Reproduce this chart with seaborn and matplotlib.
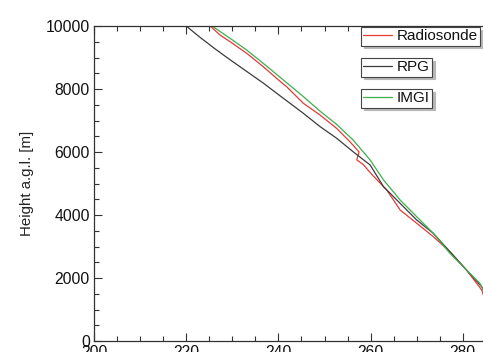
import matplotlib
matplotlib.use("Agg")
import matplotlib.pyplot as plt
from matplotlib.lines import Line2D
from matplotlib.ticker import MultipleLocator
import seaborn as sns
import pandas as pd

sns.set_theme(style="white")
plt.rcParams['font.family'] = ['Liberation Sans', 'DejaVu Sans']

# Temperature [K] vs height a.g.l. [m]
radiosonde_T = [225.2, 227.3, 229.5, 233.1, 236.7, 240.3, 241.8, 245.4, 249.0, 252.6, 255.5,
                257.5, 257.0, 258.4, 260.5, 263.5, 266.4, 270.0, 273.6, 277.2,
                280.8, 284.1, 285.5, 285.0, 284.4]
radiosonde_h = [10000, 9716, 9503, 9135, 8709, 8250, 8070, 7547, 7176, 6753, 6328,
                6000, 5750, 5600, 5250, 4794, 4159, 3737, 3312, 2836,
                2254, 1619, 1000, 200, 0]

rpg_T = [220.0, 223.0, 226.3, 229.5, 233.1, 236.7, 240.3, 245.4, 249.0, 252.6,
         256.2, 259.9, 262.8, 266.4, 270.0, 273.6, 277.2, 280.8, 284.1, 286.5, 288.0]
rpg_h = [10000, 9640, 9270, 8930, 8560, 8190, 7790, 7230, 6810, 6440,
         6010, 5588, 4899, 4372, 3842, 3420, 2836, 2254, 1724, 1000, 0]

imgi_T = [225.6, 229.5, 233.1, 236.7, 240.3, 245.4, 249.0, 252.6, 256.2, 259.9, 262.8,
          266.4, 270.0, 273.6, 277.2, 280.8, 283.7, 286.5, 288.0]
imgi_h = [10000, 9611, 9239, 8817, 8380, 7760, 7300, 6880, 6382, 5747, 5112,
          4477, 3947, 3420, 2784, 2254, 1832, 1000, 0]

series = [("Radiosonde", radiosonde_T, radiosonde_h, "#e63a36"),
          ("RPG", rpg_T, rpg_h, "#3c3c3c"),
          ("IMGI", imgi_T, imgi_h, "#3fae4e")]

W, H = 483, 352
fig = plt.figure(figsize=(W / 100, H / 100), dpi=100)
fig.patch.set_facecolor("white")
# axes: x=200 at px 94, 20 K = 92.2 px; y=0 at px 341, 10000 at px 26
ax_left = 94 / W
ax_bottom = (H - 341) / H
ax_height = (341 - 26) / H
xmax = 300
ax_width = (92.2 / 20 * (xmax - 200)) / W
ax = fig.add_axes([ax_left, ax_bottom, ax_width, ax_height])

for name, T, h, col in series:
    df = pd.DataFrame({"T": T, "h": h})
    sns.lineplot(data=df, x="T", y="h", sort=False, color=col, lw=0.9, ax=ax, legend=False)

ax.set_xlim(200, xmax)
ax.set_ylim(0, 10000)
ax.set_xlabel("")
ax.set_ylabel("Height a.g.l. [m]", fontsize=10.8, color="#222222")
ax.yaxis.set_label_coords(-0.131, 0.5)
ax.xaxis.set_major_locator(MultipleLocator(20))
ax.xaxis.set_minor_locator(MultipleLocator(5))
ax.yaxis.set_major_locator(MultipleLocator(2000))
ax.yaxis.set_minor_locator(MultipleLocator(500))
ax.tick_params(which="both", direction="in", top=True, right=False, bottom=True, left=True,
               color="#333333", width=0.8)
ax.tick_params(which="major", length=6, labelsize=11.3, labelcolor="#111111", pad=3)
ax.tick_params(which="minor", length=3.5)
for s in ax.spines.values():
    s.set_color("#333333")
    s.set_linewidth(0.9)

# three separate legend boxes
tops = [27, 58, 89]
for (name, T, h, col), top in zip(series, tops):
    handle = Line2D([], [], color=col, lw=0.9)
    leg = fig.legend([handle], [name], loc="upper left",
                     bbox_to_anchor=(361 / W, 1 - top / H), bbox_transform=fig.transFigure,
                     fontsize=11, frameon=True, fancybox=False,
                     shadow={"color": "#b8b8b8", "alpha": 1.0},
                     borderpad=0.15, handlelength=1.9, handletextpad=0.3, borderaxespad=0)
    leg.get_frame().set_edgecolor("#444444")
    leg.get_frame().set_linewidth(0.8)
    for t in leg.get_texts():
        t.set_color("#111111")

fig.savefig("out.png", dpi=100, facecolor="white")
